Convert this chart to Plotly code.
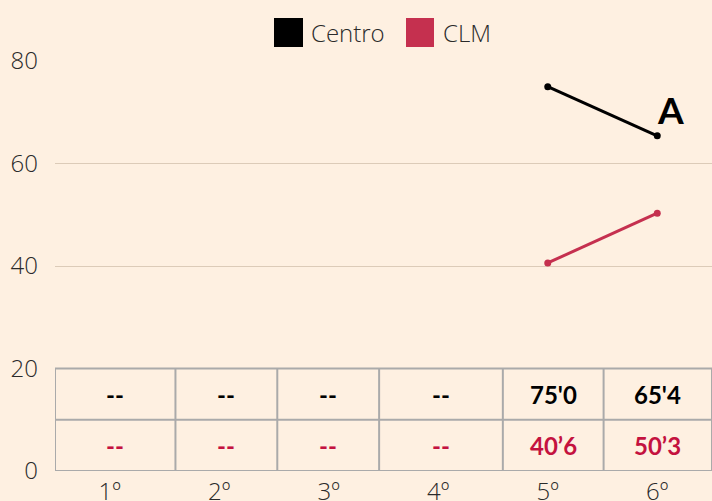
import plotly.graph_objects as go

categories = ["1º", "2º", "3º", "4º", "5º", "6º"]
centro = [None, None, None, None, 75.0, 65.4]
clm = [None, None, None, None, 40.6, 50.3]
centro_labels = ["--", "--", "--", "--", "75'0", "65'4"]
clm_labels = ["--", "--", "--", "--", "40’6", "50’3"]
series_names = ["Centro", "CLM"]
y_ticks = [0, 20, 40, 60, 80]
table_col_edges = [-0.5, 0.6, 1.53, 2.46, 3.59, 4.51, 5.5]
table_row_edges = [0, 10, 20]

BG = "#fef0e1"
BLACK = "#000000"
RED = "#c5304f"
RED_TXT = "#c4123f"
GRID = "#dccbb8"
TABLE = "#aaaaaa"
LIGHT = dict(family="Open Sans", size=24, color="#2a2a2a", weight=300)
BOLD = "Lato"

fig = go.Figure()
fig.add_trace(go.Scatter(x=categories, y=centro, mode="lines+markers", name=series_names[0],
                         line=dict(color=BLACK, width=3), marker=dict(size=7, color=BLACK),
                         showlegend=False, hoverinfo="skip"))
fig.add_trace(go.Scatter(x=categories, y=clm, mode="lines+markers", name=series_names[1],
                         line=dict(color=RED, width=3), marker=dict(size=7, color=RED),
                         showlegend=False, hoverinfo="skip"))

shapes = []
for yv in table_row_edges:
    shapes.append(dict(type="line", xref="x", yref="y", x0=table_col_edges[0] - 0.015, x1=table_col_edges[-1],
                       y0=yv, y1=yv, line=dict(color=TABLE, width=2), layer="above"))
for xv in table_col_edges:
    shapes.append(dict(type="line", xref="x", yref="y", x0=xv, x1=xv, y0=table_row_edges[0],
                       y1=table_row_edges[-1], line=dict(color=TABLE, width=2), layer="above"))

# manual legend with large square swatches
legend_items = [(series_names[0], BLACK, 0.3333, 0.3775, 0.3866),
                (series_names[1], RED, 0.5342, 0.5769, 0.5875)]
annotations = []
for name, col, sx0, sx1, tx in legend_items:
    shapes.append(dict(type="rect", xref="paper", yref="paper", x0=sx0, x1=sx1, y0=1.0341, y1=1.1049,
                       fillcolor=col, line=dict(width=0)))
    annotations.append(dict(x=tx, y=1.0683, xref="paper", yref="paper", text=name, showarrow=False,
                            xanchor="left", yanchor="middle", font=LIGHT))

for i in range(len(categories)):
    cx = (table_col_edges[i] + table_col_edges[i + 1]) / 2
    annotations.append(dict(x=cx, y=(table_row_edges[1] + table_row_edges[2]) / 2, xref="x", yref="y",
                            text=centro_labels[i], showarrow=False,
                            font=dict(family=BOLD, size=24, color=BLACK, weight="bold")))
    annotations.append(dict(x=cx, y=(table_row_edges[0] + table_row_edges[1]) / 2, xref="x", yref="y",
                            text=clm_labels[i], showarrow=False,
                            font=dict(family=BOLD, size=24, color=RED_TXT, weight="bold")))
annotations.append(dict(x=5.12, y=70.5, xref="x", yref="y", text="A", showarrow=False,
                        font=dict(family=BOLD, size=37, color=BLACK, weight="bold")))

fig.update_layout(
    width=712, height=501,
    margin=dict(l=55, r=0, t=61, b=30),
    paper_bgcolor=BG, plot_bgcolor=BG,
    font=LIGHT,
    showlegend=False,
    hovermode=False,
    xaxis=dict(type="category", range=[-0.5, 5.5], showgrid=False, zeroline=False,
               showline=False, ticks="", tickfont=LIGHT, ticklabelstandoff=4, automargin=False),
    yaxis=dict(range=[0, 80], tickvals=y_ticks, showgrid=True, gridcolor=GRID, gridwidth=1,
               zeroline=False, showline=False, ticks="", tickfont=LIGHT, ticklabelstandoff=16,
               automargin=False),
    shapes=shapes,
    annotations=annotations,
)

fig.write_html("out.html", config={"displayModeBar": False, "staticPlot": True}, post_script=(
    "document.documentElement.style.margin='0';"
    "document.body.style.margin='0';"
    "document.body.style.overflow='hidden';"
    "document.body.style.background='" + BG + "';"))
